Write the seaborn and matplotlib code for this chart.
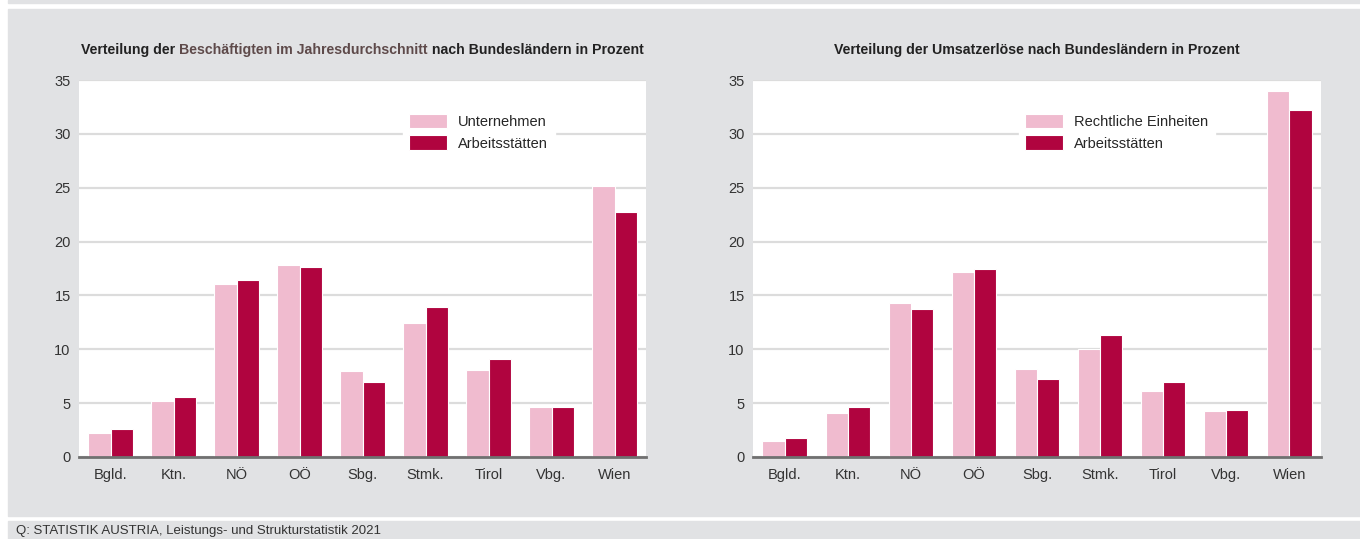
import matplotlib
matplotlib.use("Agg")
import matplotlib.pyplot as plt
from matplotlib.patches import Rectangle
import seaborn as sns
import pandas as pd

# --- Data ---
laender = ["Bgld.", "Ktn.", "NÖ", "OÖ", "Sbg.", "Stmk.", "Tirol", "Vbg.", "Wien"]

besch_unternehmen = [2.2, 5.2, 16.1, 17.8, 8.0, 12.4, 8.1, 4.6, 25.2]
besch_arbeitsstaetten = [2.6, 5.6, 16.4, 17.6, 7.0, 13.9, 9.1, 4.6, 22.7]

umsatz_rechtliche = [1.5, 4.1, 14.3, 17.2, 8.2, 10.0, 6.1, 4.3, 34.0]
umsatz_arbeitsstaetten = [1.8, 4.6, 13.7, 17.5, 7.2, 11.3, 7.0, 4.4, 32.2]

source = "Q: STATISTIK AUSTRIA, Leistungs- und Strukturstatistik 2021"

PINK = "#f0bbcf"
DARK = "#b0043f"
PANEL = "#e1e2e4"
TEXT = "#333333"
FS = 10.5

sns.set_theme(style="white")
plt.rcParams['font.family'] = ['Liberation Sans', 'DejaVu Sans']

W, H = 1360, 539
fig = plt.figure(figsize=(W / 100, H / 100), dpi=100, facecolor="white")


def px_rect(x0, y0, x1, y1, color):
    fig.patches.append(Rectangle((x0 / W, 1 - y1 / H), (x1 - x0) / W, (y1 - y0) / H,
                                 transform=fig.transFigure, color=color, zorder=-10))


# grey background panels
px_rect(8, 0, W, 3, PANEL)
px_rect(8, 9, W, 516, PANEL)
px_rect(8, 521, W, H, PANEL)


def make_df(a, b, name_a, name_b):
    return pd.DataFrame({
        "Land": laender * 2,
        "Wert": a + b,
        "Reihe": [name_a] * len(laender) + [name_b] * len(laender),
    })


def draw_panel(ax, df, legend_x):
    sns.barplot(data=df, x="Land", y="Wert", hue="Reihe", palette=[PINK, DARK],
                width=0.7, edgecolor="white", linewidth=0.8, ax=ax, saturation=1)
    ax.set_facecolor("white")
    ax.set_ylim(0, 35)
    ax.set_xlim(-0.5, len(laender) - 0.5)
    ax.set_yticks(range(0, 36, 5))
    ax.set_xlabel("")
    ax.set_ylabel("")
    ax.grid(axis="y", color="#dcdcdc", linewidth=1.6)
    ax.set_axisbelow(True)
    for side in ["top", "left", "right"]:
        ax.spines[side].set_visible(False)
    ax.spines["bottom"].set_color("#707070")
    ax.spines["bottom"].set_linewidth(2)
    ax.tick_params(axis="both", length=0, labelsize=FS, labelcolor=TEXT)
    ax.tick_params(axis="x", pad=8)
    ax.tick_params(axis="y", pad=6)
    ax.legend(loc="upper left", bbox_to_anchor=(legend_x, 0.928), borderaxespad=0,
              frameon=True, facecolor="white", edgecolor="white", framealpha=1,
              fancybox=False, fontsize=FS, handlelength=2.6, handleheight=1.15,
              labelspacing=0.45, handletextpad=0.75, borderpad=0.45, title=None)


ax1 = fig.add_axes([79 / W, 1 - 457 / H, 567 / W, 377 / H])
draw_panel(ax1, make_df(besch_unternehmen, besch_arbeitsstaetten,
                        "Unternehmen", "Arbeitsstätten"), 0.571)

ax2 = fig.add_axes([753 / W, 1 - 457 / H, 568 / W, 377 / H])
draw_panel(ax2, make_df(umsatz_rechtliche, umsatz_arbeitsstaetten,
                        "Rechtliche Einheiten", "Arbeitsstätten"), 0.468)


def multi_title(pieces, cx, y, size=10.2):
    texts = [fig.text(0, y, s, color=c, fontsize=size, fontweight="bold",
                      ha="left", va="center") for s, c in pieces]
    fig.canvas.draw()
    r = fig.canvas.get_renderer()
    widths = [t.get_window_extent(r).width for t in texts]
    x = cx - sum(widths) / 2
    for t, w in zip(texts, widths):
        t.set_x(x / W)
        x += w


multi_title([("Verteilung der ", "#222222"),
             ("Beschäftigten im Jahresdurchschnitt", "#5e4a4a"),
             (" nach Bundesländern in Prozent", "#222222")],
            (79 + 646) / 2, 1 - 50 / H)
multi_title([("Verteilung der Umsatzerlöse nach Bundesländern in Prozent", "#222222")],
            (753 + 1321) / 2, 1 - 50 / H)

fig.text(16 / W, 1 - 531 / H, source, fontsize=9.5, color=TEXT, ha="left", va="center")

fig.savefig("out.png", dpi=100, facecolor="white")
